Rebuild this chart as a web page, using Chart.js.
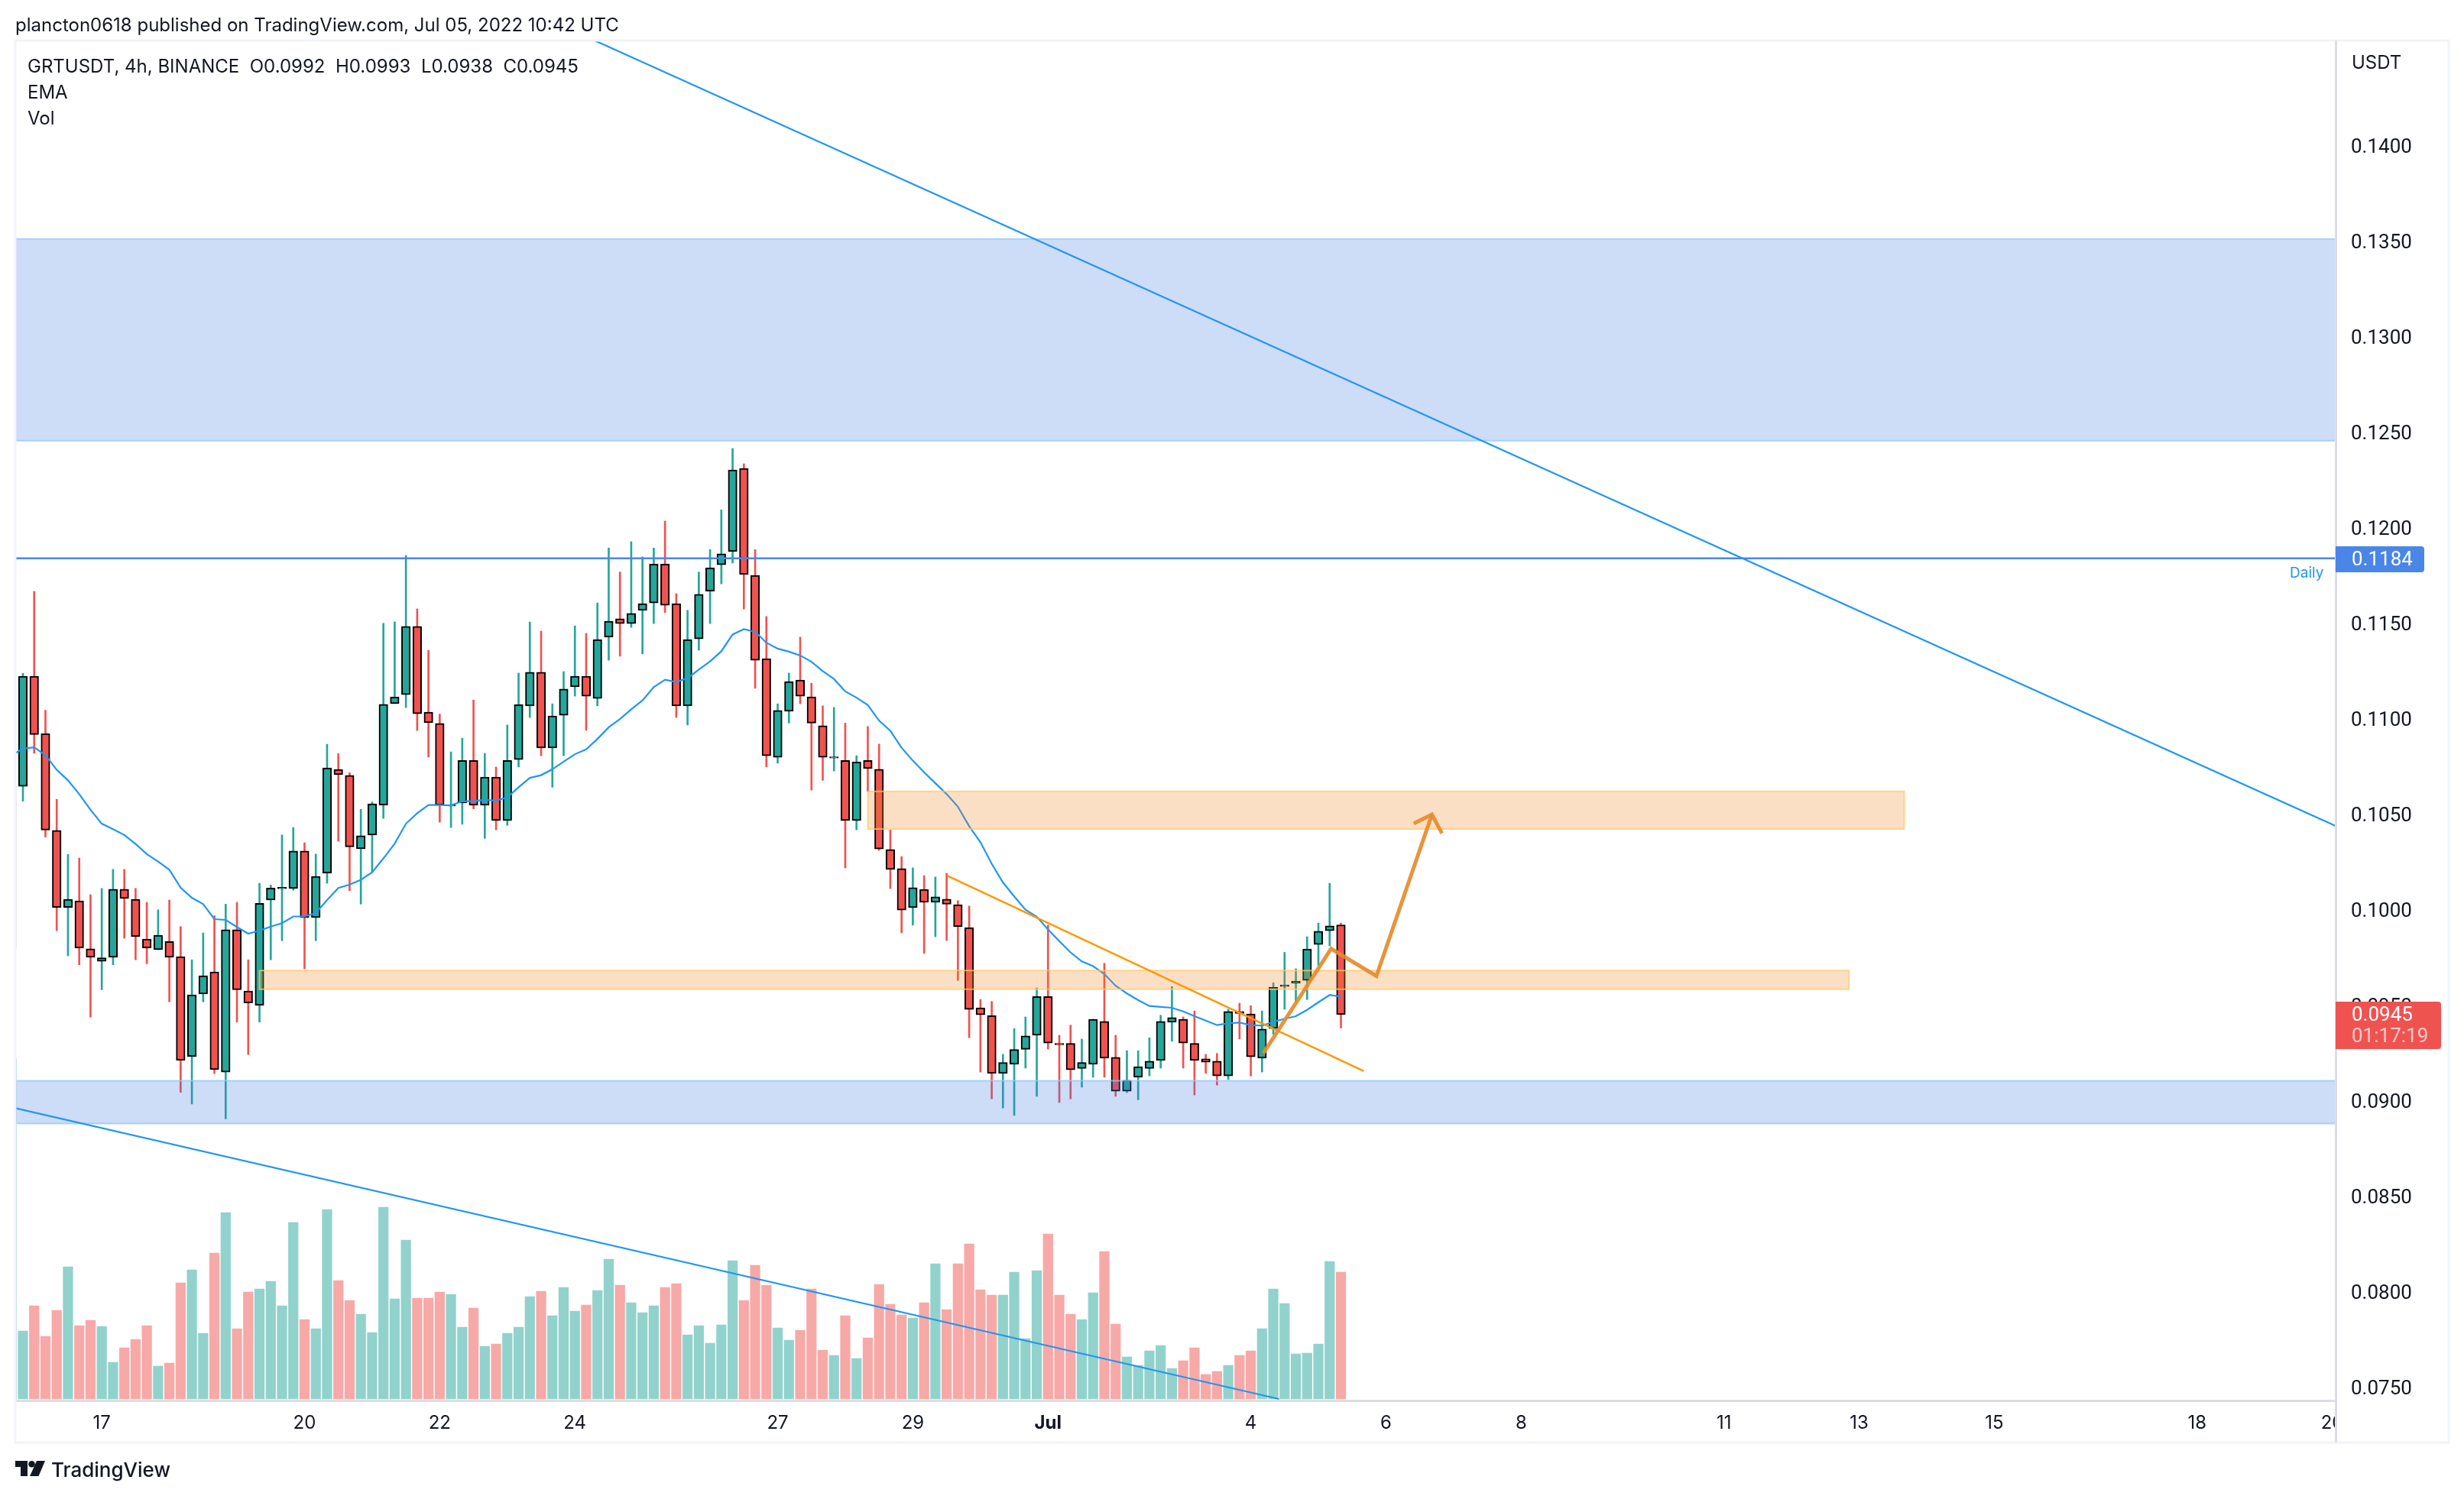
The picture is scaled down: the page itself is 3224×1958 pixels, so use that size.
<!DOCTYPE html>
<html><head><meta charset="utf-8">
<style>html,body{margin:0;padding:0;background:#fff}canvas{display:block}</style>
<script src="https://cdn.jsdelivr.net/npm/chart.js@4/dist/chart.umd.js"></script>
</head><body><canvas id="c" width="3224" height="1958"></canvas>
<script>
// Candle indexes run from -1 (the clipped candle at the left edge) to 117
const opens=[.09799,.10646,.11222,.10921,.10415,.10011,.10046,.09795,.09729,.0975,.10107,.10054,.09846,.0979,.09833,.09754,.09231,.09558,.09674,.09149,.09895,.09574,.09499,.1005,.10109,.10111,.10307,.09958,.10191,.10734,.10703,.10319,.10391,.10548,.11079,.11126,.11483,.11034,.10975,.10543,.10559,.10781,.10547,.10694,.10467,.10786,.11067,.11243,.10847,.11018,.11167,.11222,.11106,.11427,.11523,.11498,.11568,.11606,.1181,.11602,.11067,.11418,.11668,.11806,.11876,.12311,.11751,.11314,.10798,.11039,.11202,.11114,.10963,.10794,.10781,.10467,.10781,.10735,.10315,.10215,.1001,.10106,.10038,.10055,.10026,.09906,.09486,.09445,.09142,.0919,.09268,.09342,.09545,.09299,.09299,.09168,.0919,.09415,.09226,.09049,.09122,.09168,.0921,.0941,.09426,.09299,.09218,.09206,.09129,.09467,.09454,.09222,.09377,.09597,.09615,.09629,.09817,.09889,.0992];
const closes=[.10646,.11222,.10917,.10417,.10011,.10054,.09799,.0975,.09748,.10107,.10058,.09858,.09799,.09866,.0975,.09211,.09554,.09654,.09162,.09895,.0958,.09511,.10033,.10113,.10117,.10307,.09958,.10174,.10742,.10707,.10329,.10387,.10554,.11075,.11113,.11483,.11026,.10979,.10548,.10549,.10781,.10547,.10694,.10467,.10781,.11073,.11243,.10847,.11014,.11155,.11222,.11118,.11414,.1151,.11498,.11551,.11602,.1181,.11594,.11067,.11414,.11651,.1179,.11864,.12303,.11755,.11306,.10806,.11043,.11194,.11118,.10977,.10798,.108,.10467,.10773,.10739,.10318,.1021,.09997,.10115,.10038,.10067,.10028,.0991,.09477,.09449,.09142,.09199,.09267,.09338,.09545,.09301,.09292,.09161,.09199,.09426,.09222,.09049,.09106,.09177,.09206,.09415,.09435,.09301,.0921,.09201,.09129,.09467,.09456,.09229,.09374,.09594,.09606,.09626,.09794,.09887,.09915,.0945];
const highs=[.10646,.11238,.11667,.11044,.10578,.10289,.1027,.10078,.10111,.10211,.10211,.10111,.10038,.09999,.1005,.09911,.09737,.09878,.09968,.10029,.10038,.09737,.10138,.10129,.10391,.1043,.1035,.10291,.10866,.10817,.10717,.10525,.10564,.11499,.11507,.11855,.11575,.11358,.11024,.10826,.10898,.11098,.10818,.10747,.10967,.11239,.11506,.11459,.11078,.11247,.11486,.11447,.11606,.11894,.11768,.11927,.11847,.11894,.12035,.11655,.11568,.11768,.11886,.12094,.12415,.12335,.11886,.11535,.11078,.11239,.11427,.11186,.11067,.11059,.10977,.10806,.10959,.10867,.10417,.10278,.10219,.10178,.10171,.1019,.10047,.10019,.09529,.09519,.09242,.09377,.09438,.0959,.09919,.09342,.09395,.09322,.09426,.09719,.09342,.09261,.09261,.09329,.09447,.09597,.09438,.09469,.09242,.09247,.09478,.0951,.09497,.09469,.09617,.09776,.0969,.09858,.09929,.10138,.0993];
const lows=[.09799,.10568,.10819,.1038,.0989,.09758,.09711,.09437,.0958,.09711,.0985,.09737,.09717,.0979,.09517,.09043,.08982,.09517,.09141,.08904,.09411,.09241,.09411,.09737,.09837,.10101,.0969,.09837,.10138,.10358,.10099,.10029,.10197,.10478,.11079,.11058,.10938,.10799,.10458,.1043,.10447,.10528,.10373,.10418,.10441,.10747,.11006,.10806,.10641,.10806,.11118,.10939,.11067,.11306,.11327,.11478,.11339,.11498,.11555,.11006,.10967,.11359,.11498,.11706,.11815,.11574,.11159,.10747,.10767,.10977,.11078,.10626,.10677,.10726,.10218,.10418,.10619,.1031,.1011,.09878,.09919,.09771,.09858,.09838,.09629,.09329,.09149,.09009,.08961,.08922,.0917,.09022,.0927,.0899,.09009,.0907,.09122,.09122,.09022,.09042,.09004,.09129,.0917,.0931,.0917,.09029,.09142,.09081,.0911,.09322,.09129,.09149,.09347,.09478,.09517,.09529,.09708,.0981,.0938];
const volumes=[445,89,122,82,116,173,96,103,95,48,67,78,96,43,47,152,169,86,191,244,92,140,144,154,122,231,104,92,248,155,129,111,87,251,131,208,132,132,140,137,94,119,69,72,86,94,134,141,109,146,115,123,142,183,149,126,113,122,146,151,84,96,73,97,181,129,175,149,93,77,90,144,64,57,109,53,80,150,124,110,106,126,177,117,177,203,143,136,136,166,79,168,216,136,111,104,139,193,98,55,44,63,70,40,50,67,32,36,44,57,63,92,144,125,59,60,72,180,166];
const emaValues=[.10807,.10844,.1085,.10809,.10732,.10677,.10605,.10523,.1045,.10421,.10391,.10344,.10291,.10252,.10209,.10115,.10062,.10029,.0995,.09946,.09909,.09874,.0989,.09911,.09929,.09964,.09964,.09982,.1005,.10113,.10131,.10156,.10195,.10268,.10346,.1045,.10505,.10548,.10548,.10546,.10567,.10569,.10575,.10571,.10587,.10641,.1069,.10704,.10735,.10775,.10814,.10839,.10894,.10955,.10998,.11049,.11096,.11165,.11204,.11192,.11212,.11257,.113,.11353,.11441,.11469,.11455,.11398,.11367,.11351,.11331,.11298,.11249,.11208,.11143,.1111,.11071,.1099,.10937,.10848,.1078,.10719,.10662,.10605,.10539,.10437,.10353,.1024,.10142,.10069,.09999,.09963,.09896,.09835,.09776,.09729,.09704,.09663,.09601,.09561,.09526,.09495,.0949,.09486,.09467,.09442,.09419,.09395,.09404,.09408,.09395,.09392,.09413,.09428,.09442,.09475,.09515,.09553,.09544];
const firstIndex=-1;

const xTickIndexes=[7,25,37,49,67,79,91,109,121,133,151,163,175,193,205];
const xTickLabels=["17","20","22","24","27","29","Jul","4","6","8","11","13","15","18","20"];
const yTickValues=[.14,.135,.13,.125,.12,.115,.11,.105,.1,.095,.09,.085,.08,.075];

const xMin=-0.678, xMax=205.3;
const yMin=0.07429, yMax=0.14552;
const volMin=-2, volMax=1778;

const blueZoneTops=[.13513,.09104];
const blueZoneBottoms=[.12456,.0888];
const orangeZoneLefts=[21,75];
const orangeZoneRights=[162.1,167];
const orangeZoneTops=[.09681,.10619];
const orangeZoneBottoms=[.09583,.10422];

const dailyLevel=.1184;
const lastPrice=.0945;
const upperTrend=[{x:50.75,y:.14552},{x:205.3,y:.10438}];
const lowerTrend=[{x:-0.68,y:.0896},{x:111.5,y:.07437}];
const orangeTrend=[{x:82.05,y:.10178},{x:119.03,y:.09154}];
const forecastPath=[{x:110.1,y:.09246},{x:116.13,y:.09795},{x:120.15,y:.09652},{x:125.08,y:.10498}];
const forecastHead=[{x:123.47,y:.10451},{x:125.08,y:.10498},{x:125.97,y:.10400}];

const publisherText="plancton0618 published on TradingView.com, Jul 05, 2022 10:42 UTC";
const legendText="GRTUSDT, 4h, BINANCE  O0.0992  H0.0993  L0.0938  C0.0945";

const FONT='Inter, "Noto Sans", sans-serif';
const NUMFONT='Roboto, Inter, sans-serif';
const UP='#26a69a', DOWN='#ef5350', UPV='rgba(38,166,154,.5)', DOWNV='rgba(239,83,80,.5)';
const AXIS='#dcdee3';
const idx=opens.map((_,i)=>i+firstIndex);
const isUp=i=>closes[i]>=opens[i];
const BLUEFILL='rgba(60,120,225,.26)', BLUEEDGE='rgba(144,202,249,.75)';
const ORFILL='rgba(240,130,30,.26)', OREDGE='rgba(255,200,110,.75)';

function lineDs(data,color,width,order,extra){return Object.assign({type:'line',data,borderColor:color,borderWidth:width,pointRadius:0,tension:0,fill:false,order,xAxisID:'x',yAxisID:'y'},extra||{});}
function zoneDs(l,r,t,b,fillC,edge,order){return lineDs([{x:l,y:t},{x:r,y:t},{x:r,y:b},{x:l,y:b},{x:l,y:t}],edge,2,order,{fill:'shape',backgroundColor:fillC,borderJoinStyle:'miter'});}

const datasets=[
 {type:'bar',data:idx.map((x,i)=>({x,y:volumes[i]})),backgroundColor:idx.map((_,i)=>isUp(i)?UPV:DOWNV),barThickness:12.6,grouped:false,xAxisID:'x',yAxisID:'v',order:20},
 {type:'bar',data:idx.map((x,i)=>({x,y:[lows[i],highs[i]]})),backgroundColor:idx.map((_,i)=>isUp(i)?UP:DOWN),barThickness:2,grouped:false,xAxisID:'x',yAxisID:'y',order:19},
 {type:'bar',data:idx.map((x,i)=>({x,y:[opens[i],closes[i]]})),backgroundColor:idx.map((_,i)=>isUp(i)?UP:DOWN),borderColor:'#000',borderWidth:2,borderSkipped:false,barThickness:11.5,grouped:false,xAxisID:'x',yAxisID:'y',order:18},
 lineDs(idx.map((x,i)=>({x,y:emaValues[i]})),'#2196f3',2.2,17),
];
blueZoneTops.forEach((t,i)=>datasets.push(zoneDs(xMin-1,xMax+1,t,blueZoneBottoms[i],BLUEFILL,BLUEEDGE,16)));
orangeZoneTops.forEach((t,i)=>datasets.push(zoneDs(orangeZoneLefts[i],orangeZoneRights[i],t,orangeZoneBottoms[i],ORFILL,OREDGE,15)));
datasets.push(lineDs([{x:xMin,y:dailyLevel},{x:xMax,y:dailyLevel}],'#4a86e8',2.4,14));
datasets.push(lineDs(upperTrend,'#2196f3',2.2,13));
datasets.push(lineDs(lowerTrend,'#2196f3',2.2,12));
datasets.push(lineDs(orangeTrend,'#ff9800',2.4,11));
datasets.push(lineDs(forecastPath,'rgba(230,140,45,.93)',5,10,{borderJoinStyle:'miter'}));
datasets.push(lineDs(forecastHead,'rgba(230,140,45,.93)',5,9,{borderJoinStyle:'miter'}));

const decor={id:'decor',afterDraw(chart){
 const c=chart.ctx,a=chart.chartArea,y=chart.scales.y;
 c.save();
 // panel frame
 c.fillStyle='#fff';c.fillRect(a.right,a.bottom+2,140,52);
 c.strokeStyle='#f0f3fa';c.lineWidth=3;c.strokeRect(20,53,3184,1835);
 c.strokeStyle=AXIS;c.lineWidth=3;c.beginPath();c.moveTo(a.right+.5,53);c.lineTo(a.right+.5,1888);c.stroke();
 c.textBaseline='middle';c.textAlign='left';c.fillStyle='#131722';
 c.font='24px '+FONT;
 c.fillText(publisherText,20,34);
 c.fillText(legendText,36,88);
 c.fillText('EMA',36,122);
 c.fillText('Vol',36,156);
 c.fillText('USDT',3077,83);
 // price labels
 const yd=y.getPixelForValue(dailyLevel);
 c.fillStyle='#4a86e8';c.beginPath();c.roundRect(a.right,715,116,34,[0,4,4,0]);c.fill();
 c.font='26px '+NUMFONT;
 c.fillStyle='#fff';c.fillText(dailyLevel.toFixed(4),3077,yd+3);
 c.fillStyle='#2196f3';c.font='19px '+FONT;c.fillText('Daily',2996,750);
 const yl=y.getPixelForValue(lastPrice);
 c.fillStyle='#ef5350';c.beginPath();c.roundRect(a.right,yl-17,138,62,[0,4,4,0]);c.fill();
 c.font='26px '+NUMFONT;c.fillStyle='#fff';c.fillText(lastPrice.toFixed(4),3077,yl+2);
 c.fillStyle='rgba(255,255,255,.7)';c.fillText('01:17:19',3077,yl+30);
 // TradingView mark
 c.fillStyle='#131722';
 c.beginPath();c.moveTo(20,1912);c.lineTo(36,1912);c.lineTo(36,1932);c.lineTo(27,1932);c.lineTo(27,1920);c.lineTo(20,1920);c.closePath();c.fill();
 c.beginPath();c.arc(41.5,1916.3,4.3,0,7);c.fill();
 c.beginPath();c.moveTo(48,1912);c.lineTo(59,1912);c.lineTo(50.5,1932);c.lineTo(39,1932);c.closePath();c.fill();
 c.font='500 26px '+FONT;c.fillStyle='#131722';c.fillText('TradingView',67,1925);
 c.restore();
}};

new Chart(document.getElementById('c'),{
 type:'bar',
 data:{datasets},
 plugins:[decor],
 options:{
  responsive:false,animation:false,devicePixelRatio:1,events:[],
  layout:{autoPadding:false,padding:{left:20,top:53,right:20,bottom:70}},
  plugins:{legend:{display:false},tooltip:{enabled:false},title:{display:false}},
  scales:{
   x:{type:'linear',min:xMin,max:xMax,offset:false,
      grid:{display:true,drawOnChartArea:false,drawTicks:false},
      border:{color:AXIS,width:3},
      afterBuildTicks:s=>{s.ticks=xTickIndexes.map(v=>({value:v}));},
      afterFit:s=>{s.height=55;},
      ticks:{autoSkip:false,maxRotation:0,padding:15,color:'#131722',
        font:ctx=>({family:FONT,size:24,weight:(ctx.tick&&ctx.tick.value===91)?'700':'400'}),
        callback:v=>xTickLabels[xTickIndexes.indexOf(v)]}},
   y:{type:'linear',position:'right',min:yMin,max:yMax,
      grid:{display:true,drawOnChartArea:false,drawTicks:false},
      border:{color:AXIS,width:3},
      afterBuildTicks:s=>{s.ticks=yTickValues.map(v=>({value:v}));},
      afterFit:s=>{s.width=148;},
      ticks:{autoSkip:false,padding:20,labelOffset:3,color:'#131722',font:{family:NUMFONT,size:26},callback:v=>v.toFixed(4)}},
   v:{type:'linear',display:false,min:volMin,max:volMax,grid:{display:false}}
  }
 }
});
</script></body></html>
